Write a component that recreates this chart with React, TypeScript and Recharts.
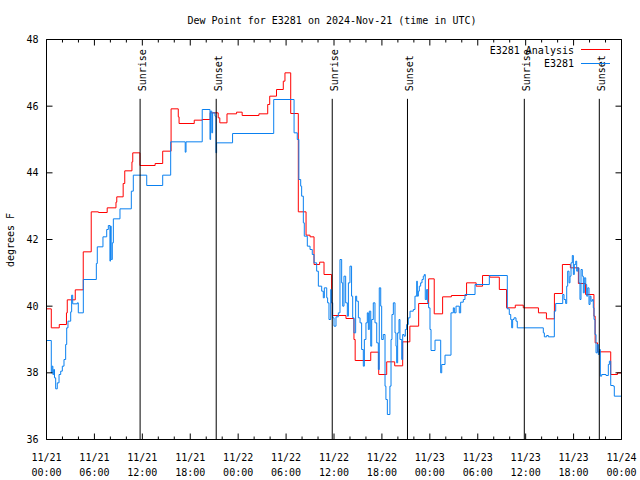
import { LineChart, Line, XAxis, YAxis, ReferenceLine } from 'recharts';

// Dew point, E3281, 2024-11-21 .. 11-24 (hours since 11/21 00:00 UTC)
const FONT = '"DejaVu Sans Mono", monospace';
const RED = '#ff0000';
const BLUE = '#0a80f0';

const analysisHours = [
  0, 0.6, 1.6, 2.5, 2.6, 3.6, 4.6, 5.6, 6.5, 7.6, 8.7, 8.8, 9.6, 9.8, 10.7, 10.8, 11.7,
  13.6, 14.55, 15.6, 16.5, 16.6, 18.5, 19.5, 20.5, 21.5, 21.7, 22.6, 23.8, 24.5, 26.6,
  27.7, 27.95, 28.8, 29.65, 29.86, 30.58, 31.53, 32.5, 33.0, 33.5, 34.2, 34.75, 35.7,
  35.8, 37.5, 38.5, 38.65, 40.6, 41.6, 42.6, 43.6, 44.6, 45.5, 46.6, 47.85, 48.55, 49.6,
  50.7, 52.6, 53.8, 54.6, 55.5, 56.7, 57.6, 58.7, 59.7, 61.6, 62.6, 63.6, 64.6, 65.6,
  66.6, 67.5, 68.55, 68.7, 69.0, 70.65, 71.5, 72,
];
const analysisTemps = [
  39.92, 39.35, 39.45, 39.8, 40.19, 40.49, 41.63, 42.83, 42.81, 42.95, 43.12, 43.28, 43.68,
  44.06, 44.33, 44.6, 44.22, 44.28, 44.65, 45.92, 45.68, 45.48, 45.58, 45.6, 45.8, 45.65,
  45.5, 45.77, 45.82, 45.72, 45.77, 46.05, 46.3, 46.5, 46.75, 47.0, 45.78, 42.83, 42.13,
  42.08, 41.25, 41.32, 40.95, 40.1, 39.72, 39.63, 39.0, 38.37, 38.62, 37.95, 38.33, 38.21,
  38.93, 39.4, 40.08, 40.82, 39.77, 40.28, 40.32, 40.7, 40.6, 40.92, 40.87, 40.5, 39.95,
  40.03, 39.95, 39.8, 39.62, 40.38, 41.25, 41.15, 40.68, 40.35, 39.7, 38.9, 38.63, 37.95,
  38.0, 38.0,
];

const obsHours = [
  0, 0.6, 0.7, 0.8, 0.9, 1.0, 1.15, 1.35, 1.57, 1.78, 1.98, 2.19, 2.4, 2.53, 2.69, 3.03,
  3.15, 3.28, 3.86, 3.98, 4.61, 6.24, 6.36, 7.07, 7.54, 7.74, 7.95, 8.0, 8.1, 8.24, 8.37,
  9.2, 10.62, 10.87, 12.55, 14.55, 15.55, 17.37, 17.47, 19.5, 20.47, 20.55, 20.7, 20.8,
  21.1, 21.22, 21.3, 23.3, 28.45, 31.0, 31.4, 31.6, 31.83, 31.95, 32.16, 32.28, 32.66,
  33.0, 33.28, 33.5, 33.83, 34.04, 34.46, 34.66, 34.79, 35.09, 35.2, 35.37, 35.59, 35.7,
  35.84, 36.0, 36.25, 36.54, 36.75, 36.96, 37.09, 37.25, 37.46, 37.67, 37.8, 38.0, 38.2,
  38.34, 38.5, 38.71, 38.84, 39.05, 39.26, 39.46, 39.67, 39.8, 40.0, 40.17, 40.3, 40.42,
  40.6, 40.72, 40.92, 41.13, 41.35, 41.55, 41.67, 41.85, 41.97, 42.17, 42.39, 42.5, 42.68,
  43.0, 43.14, 43.26, 43.43, 43.64, 43.76, 43.85, 43.97, 44.14, 44.26, 44.48, 44.6, 44.77,
  44.93, 45.1, 45.3, 45.52, 45.93, 46.14, 46.36, 46.43, 46.56, 46.68, 46.85, 47.02, 47.18,
  47.31, 47.43, 47.6, 47.73, 47.85, 48.02, 48.15, 48.65, 49.36, 49.49, 49.9, 50.65, 50.94,
  51.07, 51.28, 51.69, 51.86, 52.19, 52.4, 53.66, 55.45, 57.7, 57.95, 58.13, 58.25, 58.37,
  58.54, 58.79, 58.95, 62.21, 62.34, 62.63, 62.84, 63.59, 63.76, 64.64, 64.8, 65.01, 65.14,
  65.26, 65.43, 65.55, 65.68, 65.84, 65.97, 66.09, 66.27, 66.39, 66.52, 66.68, 66.8, 66.93,
  67.09, 67.22, 67.34, 67.52, 67.64, 67.77, 67.93, 68.06, 68.18, 68.35, 68.47, 68.56, 68.68,
  68.81, 68.97, 69.1, 69.22, 69.35, 69.52, 70.06, 70.35, 70.48, 70.65, 70.98, 71.1, 72,
];
const obsTemps = [
  38.97, 38.0, 38.2, 37.95, 38.1, 37.85, 37.52, 37.7, 37.95, 38.05, 38.2, 38.4, 38.85, 39.35,
  39.55, 39.83, 40.33, 40.07, 40.1, 39.8, 40.8, 41.28, 41.78, 42.08, 42.3, 42.42, 41.35,
  42.4, 41.4, 41.9, 42.62, 42.92, 43.45, 43.93, 43.62, 43.93, 44.93, 44.62, 44.93, 45.9,
  45.0, 45.85, 45.2, 45.8, 45.7, 44.6, 44.9, 45.18, 46.2, 45.2, 45.0, 43.8, 43.6, 43.3,
  42.5, 42.1, 41.8, 41.7, 41.55, 41.3, 41.05, 40.6, 40.45, 40.25, 40.55, 40.25, 40.1, 39.6,
  40.5, 40.1, 39.65, 39.4, 39.68, 39.8, 41.4, 40.7, 40.0, 40.9, 40.1, 39.7, 40.7, 41.2,
  40.3, 39.65, 39.2, 40.3, 40.15, 39.65, 39.5, 38.7, 38.2, 39.0, 39.5, 39.8, 39.3, 39.85,
  38.8, 39.6, 40.1, 39.5, 38.9, 38.1, 40.55, 40.0, 39.0, 39.15, 37.6, 37.2, 36.75, 37.6,
  39.0, 39.75, 40.1, 39.2, 38.8, 38.3, 39.2, 39.6, 39.0, 38.4, 39.15, 39.1, 39.3, 39.45,
  39.65, 39.85, 39.9, 40.3, 40.75, 40.3, 40.45, 40.6, 40.7, 40.8, 40.9, 40.95, 40.2, 40.5,
  40.1, 39.95, 39.3, 38.67, 38.98, 38.0, 38.25, 38.53, 39.8, 39.95, 39.8, 40.0, 39.8, 40.12,
  40.2, 40.35, 40.65, 40.92, 39.92, 39.75, 39.6, 39.35, 39.6, 39.65, 39.55, 39.35, 39.2,
  39.08, 39.12, 39.08, 39.85, 40.08, 40.35, 40.2, 40.08, 40.6, 41.05, 40.7, 40.9, 41.3,
  41.52, 40.95, 41.25, 41.35, 41.05, 41.15, 40.7, 40.2, 41.1, 40.9, 40.4, 40.85, 40.65,
  40.3, 40.55, 40.05, 40.3, 40.15, 40.2, 39.95, 39.6, 39.15, 38.6, 38.85, 38.55, 38.7, 37.9,
  37.95, 37.92, 38.25, 38.35, 37.62, 37.6, 37.3, 37.3,
];

const sunHours = [11.72, 21.25, 35.78, 45.2, 59.83, 69.22];
const sunLabels = ['Sunrise', 'Sunset', 'Sunrise', 'Sunset', 'Sunrise', 'Sunset'];
const sunLineTop = 46.22;

const xMinorTicks = [0, 2, 4, 6, 8, 10, 12, 14, 16, 18, 20, 22, 24, 26, 28, 30, 32, 34, 36, 38, 40, 42, 44, 46, 48, 50, 52, 54, 56, 58, 60, 62, 64, 66, 68, 70, 72];
const xTickHours = [0, 6, 12, 18, 24, 30, 36, 42, 48, 54, 60, 66, 72];
const xTickDates = ['11/21', '11/21', '11/21', '11/21', '11/22', '11/22', '11/22', '11/22', '11/23', '11/23', '11/23', '11/23', '11/24'];
const xTickTimes = ['00:00', '06:00', '12:00', '18:00', '00:00', '06:00', '12:00', '18:00', '00:00', '06:00', '12:00', '18:00', '00:00'];
const yTicks = [36, 38, 40, 42, 44, 46, 48];

const analysisData = analysisHours.map((h, i) => ({ h, v: analysisTemps[i] }));
const obsData = obsHours.map((h, i) => ({ h, v: obsTemps[i] }));

const txt = { fontFamily: FONT, fontSize: 10, fill: '#000' };

function BottomTick({ x, y, payload }: any) {
  const i = xTickHours.indexOf(payload.value);
  const len = i >= 0 ? 6 : 3;
  return (
    <g>
      <line x1={x} x2={x} y1={y} y2={y - len} stroke="#000" />
      {i >= 0 && (
        <text x={x} y={y + 21} textAnchor="middle" {...txt}>
          {xTickDates[i]}
        </text>
      )}
      {i >= 0 && (
        <text x={x} y={y + 36} textAnchor="middle" {...txt}>
          {xTickTimes[i]}
        </text>
      )}
    </g>
  );
}

function TopTick({ x, y, payload }: any) {
  const len = xTickHours.includes(payload.value) ? 6 : 3;
  return <line x1={x} x2={x} y1={y} y2={y + len} stroke="#000" />;
}

function LeftTick({ x, y, payload }: any) {
  return (
    <g>
      <line x1={x} x2={x + 6} y1={y} y2={y} stroke="#000" />
      <text x={x - 8} y={y + 3.5} textAnchor="end" {...txt}>
        {payload.value}
      </text>
    </g>
  );
}

function RightTick({ x, y }: any) {
  return <line x1={x} x2={x - 6} y1={y} y2={y} stroke="#000" />;
}

const sunLabel = (text: string) => (props: any) => {
  const vb = props.viewBox || {};
  const x = vb.x + 5.5;
  const y = vb.y - 7.5;
  return (
    <text transform={`translate(${x},${y}) rotate(-90)`} textAnchor="start" {...txt}>
      {text}
    </text>
  );
};

export default function App() {
  return (
    <div style={{ position: 'absolute', left: 0, top: 0, width: 640, height: 480, background: '#fff' }}>
      <LineChart width={640} height={480} margin={{ top: 0, right: 0, bottom: 0, left: 0 }}>
        <XAxis
          type="number"
          dataKey="h"
          domain={[0, 72]}
          ticks={xMinorTicks}
          interval={0}
          height={40.5}
          tickSize={0}
          tickMargin={0}
          tickLine={false}
          axisLine={{ stroke: '#000' }}
          tick={(p: any) => <BottomTick {...p} />}
          allowDataOverflow
        />
        <XAxis
          xAxisId="top"
          orientation="top"
          type="number"
          dataKey="h"
          domain={[0, 72]}
          ticks={xMinorTicks}
          interval={0}
          height={39.5}
          tickSize={0}
          tickMargin={0}
          tickLine={false}
          axisLine={{ stroke: '#000' }}
          tick={(p: any) => <TopTick {...p} />}
          allowDataOverflow
        />
        <YAxis
          domain={[36, 48]}
          ticks={yTicks}
          interval={0}
          width={46.5}
          tickSize={0}
          tickMargin={0}
          tickLine={false}
          axisLine={{ stroke: '#000' }}
          tick={(p: any) => <LeftTick {...p} />}
          allowDataOverflow
        />
        <YAxis
          yAxisId="right"
          orientation="right"
          domain={[36, 48]}
          ticks={yTicks}
          interval={0}
          width={18.5}
          tickSize={0}
          tickMargin={0}
          tickLine={false}
          axisLine={{ stroke: '#000' }}
          tick={(p: any) => <RightTick {...p} />}
          allowDataOverflow
        />
        <Line
          data={analysisData}
          dataKey="v"
          type="stepAfter"
          stroke={RED}
          strokeWidth={1}
          dot={false}
          activeDot={false}
          isAnimationActive={false}
        />
        <Line
          data={obsData}
          dataKey="v"
          type="stepAfter"
          stroke={BLUE}
          strokeWidth={1}
          dot={false}
          activeDot={false}
          isAnimationActive={false}
        />
        {sunHours.map((h, i) => (
          <ReferenceLine
            key={i}
            segment={[
              { x: h, y: sunLineTop },
              { x: h, y: 36 },
            ]}
            stroke="#000"
            strokeWidth={1}
            label={sunLabel(sunLabels[i])}
          />
        ))}
      </LineChart>
      <svg
        width={640}
        height={480}
        style={{ position: 'absolute', left: 0, top: 0, pointerEvents: 'none' }}
      >
        <text x={332} y={24} textAnchor="middle" {...txt}>
          Dew Point for E3281 on 2024-Nov-21 (time in UTC)
        </text>
        <text transform="translate(14,240) rotate(-90)" textAnchor="middle" {...txt}>
          degrees F
        </text>
        <text x={574} y={53.5} textAnchor="end" {...txt}>
          E3281 Analysis
        </text>
        <line x1={581} x2={610} y1={49.5} y2={49.5} stroke={RED} />
        <text x={574} y={67} textAnchor="end" {...txt}>
          E3281
        </text>
        <line x1={581} x2={610} y1={63.5} y2={63.5} stroke={BLUE} />
      </svg>
    </div>
  );
}
